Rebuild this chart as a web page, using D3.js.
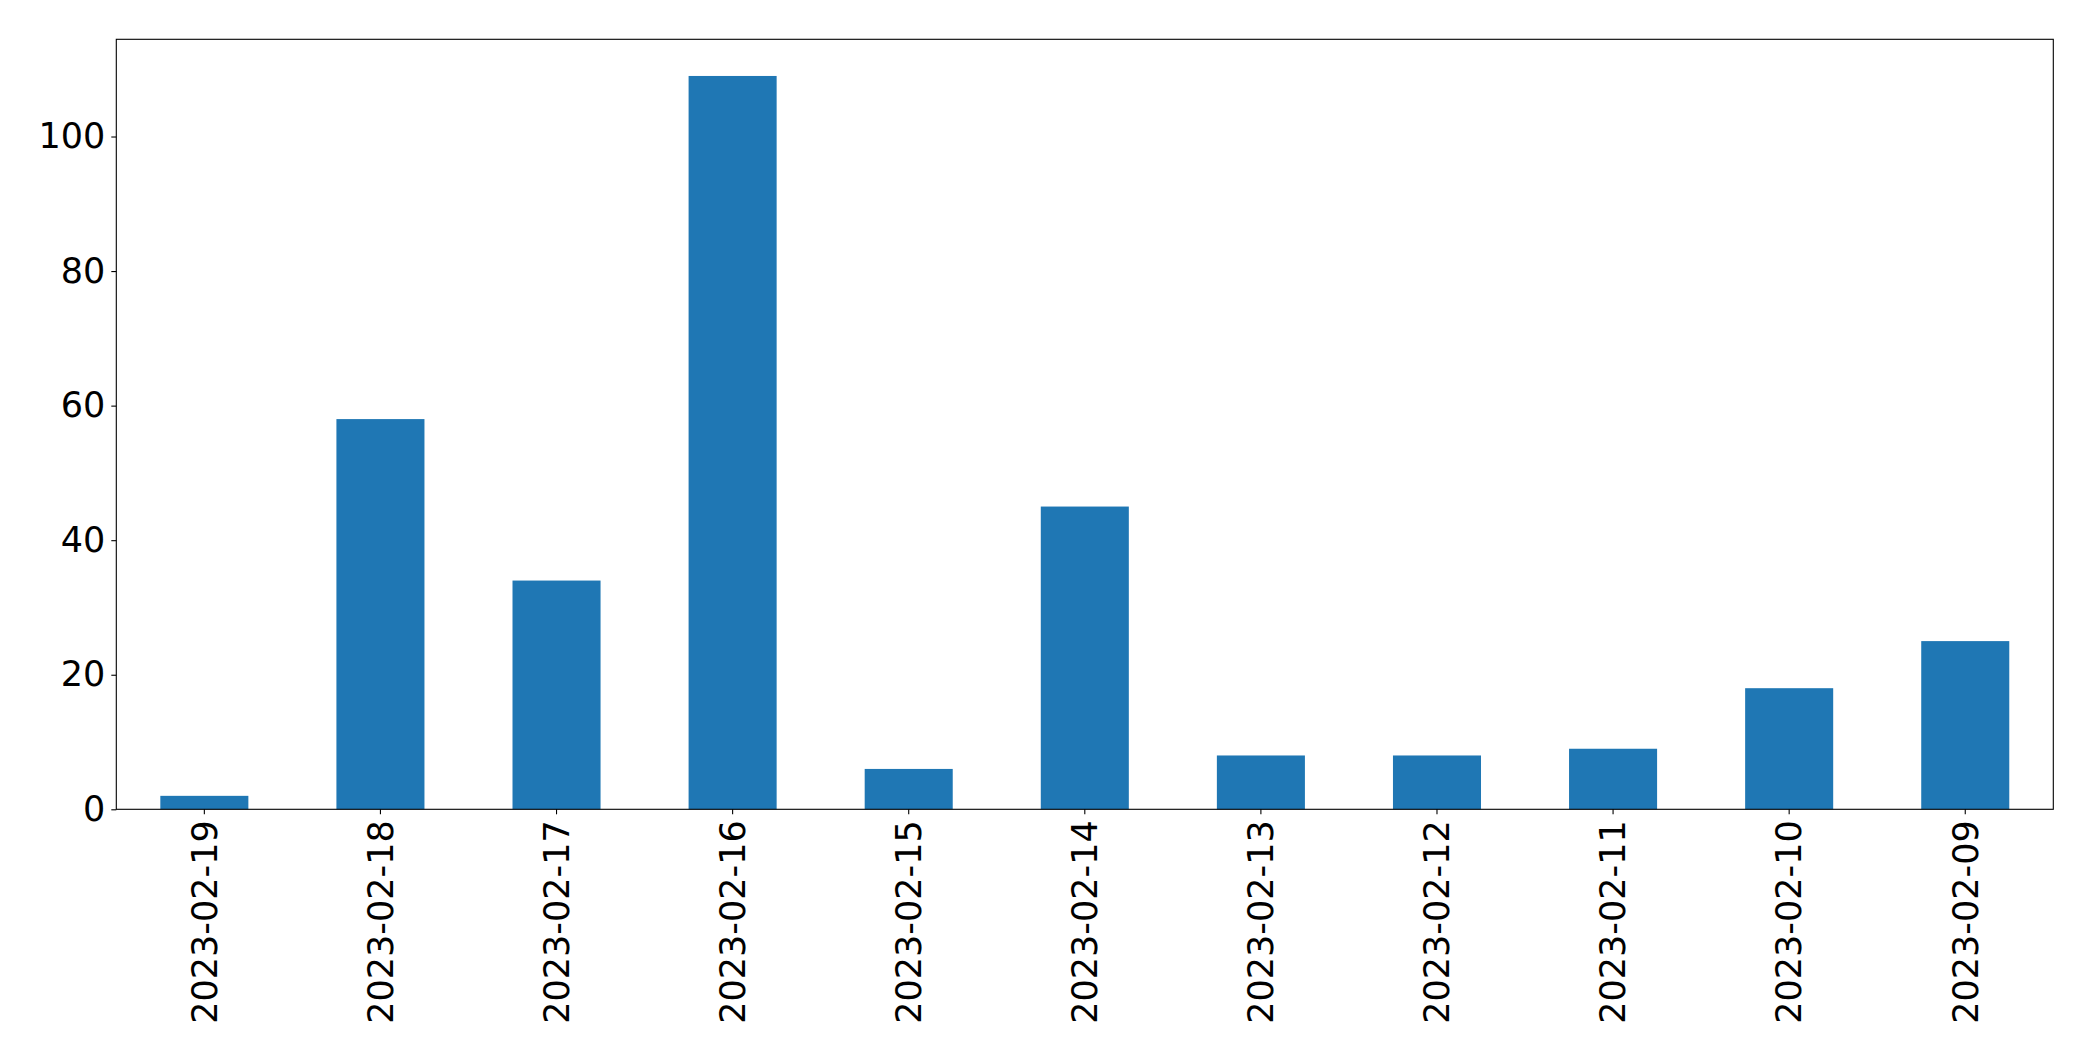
<!DOCTYPE html>
<html>
<head>
<meta charset="utf-8">
<script src="https://cdn.jsdelivr.net/npm/d3@7"></script>
<style>
html,body{margin:0;padding:0;background:#fff;}
svg{display:block;}
text{font-family:"DejaVu Sans",sans-serif;}
</style>
</head>
<body>
<script>
const categories = ["2023-02-19","2023-02-18","2023-02-17","2023-02-16","2023-02-15","2023-02-14","2023-02-13","2023-02-12","2023-02-11","2023-02-10","2023-02-09"];
const values = [2, 58, 34, 109, 6, 45, 8, 8, 9, 18, 25];
const yTicks = [0, 20, 40, 60, 80, 100];

const W = 2093, H = 1061;
const m = {left: 116.3, right: W - 2053.3, top: 39.3, bottom: H - 809.3};
const svg = d3.select("body").append("svg").attr("width", W).attr("height", H);

const x = d3.scaleBand().domain(categories).range([m.left, W - m.right]).paddingInner(0.5).paddingOuter(0.25);
const yMax = d3.max(values) * 1.05;
const y = d3.scaleLinear().domain([0, yMax]).range([H - m.bottom, m.top]);

svg.append("g").selectAll("rect").data(values).join("rect")
  .attr("x", (d, i) => x(categories[i]))
  .attr("width", x.bandwidth())
  .attr("y", d => y(d))
  .attr("height", d => y(0) - y(d))
  .attr("fill", "#1f77b4");

const fs = 35;
const yAxis = svg.append("g").attr("transform", `translate(${m.left},0)`)
  .call(d3.axisLeft(y).tickValues(yTicks).tickSize(5).tickPadding(6).tickFormat(d3.format("d")));
yAxis.select(".domain").remove();
yAxis.selectAll("text").attr("font-size", fs).attr("fill", "#000").attr("font-family", "DejaVu Sans");
yAxis.selectAll("line").attr("stroke", "#000").attr("stroke-width", 1.1);

const xAxis = svg.append("g").attr("transform", `translate(0,${H - m.bottom})`)
  .call(d3.axisBottom(x).tickSize(5).tickPadding(6));
xAxis.select(".domain").remove();
xAxis.selectAll("line").attr("stroke", "#000").attr("stroke-width", 1.1);
xAxis.selectAll("text")
  .attr("font-size", fs).attr("fill", "#000").attr("font-family", "DejaVu Sans")
  .attr("transform", "rotate(-90)")
  .attr("x", -11).attr("y", 0).attr("dy", "0.35em")
  .attr("text-anchor", "end");

svg.append("rect")
  .attr("x", m.left).attr("y", m.top)
  .attr("width", W - m.left - m.right).attr("height", H - m.top - m.bottom)
  .attr("fill", "none").attr("stroke", "#000").attr("stroke-width", 1.1);
</script>
</body>
</html>
